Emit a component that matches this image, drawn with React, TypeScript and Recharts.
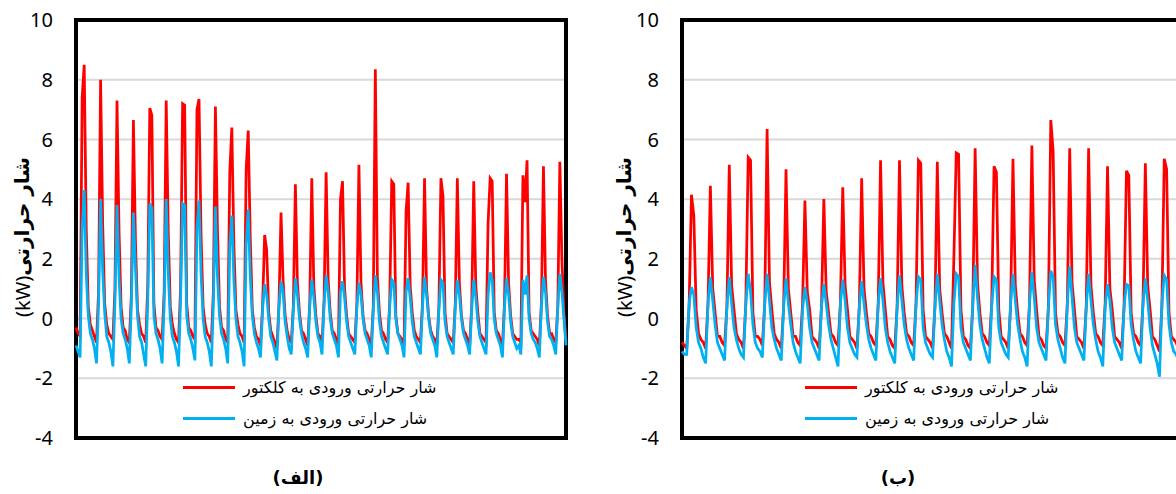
import { LineChart, Line, XAxis, YAxis, CartesianGrid, ReferenceArea, Legend } from 'recharts';

const SERIES_NAMES = ['شار حرارتی ورودی به کلکتور', 'شار حرارتی ورودی به زمین'];
const SERIES_COLORS = ['#ff0000', '#00b0f0'];
const Y_TICKS = [-4, -2, 0, 2, 4, 6, 8, 10];
const Y_LABEL_FA = 'شار حرارتی';
const Y_LABEL_UNIT = '(kW)';
const PANEL_TITLES = ['(الف)', '(ب)'];

// 30 days, 8 readings a day (3 h apart), kW
const LEFT_COLLECTOR = [
  -0.3, -0.5, -0.6, 7.4, 8.5, 3.0, 0.4, -0.2,
  -0.4, -0.6, -0.8, 0.9, 8.0, 3.2, 0.5, -0.2,
  -0.5, -0.6, -0.7, 1.0, 7.3, 2.9, 0.4, -0.3,
  -0.4, -0.7, -0.8, 0.8, 6.65, 2.6, 0.3, -0.2,
  -0.5, -0.6, -0.8, 1.1, 7.05, 6.8, 0.5, -0.3,
  -0.4, -0.6, -0.7, 0.9, 7.3, 2.9, 0.4, -0.2,
  -0.5, -0.7, -0.8, 1.0, 7.2, 7.15, 0.5, -0.3,
  -0.4, -0.6, -0.7, 7.0, 7.35, 2.8, 0.4, -0.2,
  -0.5, -0.6, -0.8, 0.9, 7.1, 3.0, 0.4, -0.3,
  -0.4, -0.7, -0.8, 4.9, 6.4, 2.5, 0.3, -0.2,
  -0.5, -0.6, -0.8, 5.0, 6.3, 2.7, 0.3, -0.3,
  -0.6, -0.7, -0.9, 0.4, 2.8, 2.3, 0.2, -0.4,
  -0.6, -0.8, -1.0, 0.5, 3.55, 1.3, 0.1, -0.4,
  -0.7, -0.8, 0.4, 4.5, 1.2, 0.2, -0.4, -0.5,
  -0.7, -0.9, 0.5, 4.7, 1.1, 0.1, -0.5, -0.6,
  -0.8, 0.6, 4.9, 1.3, 0.2, -0.4, -0.5, -0.7,
  -0.9, 4.0, 4.6, 1.0, 0.1, -0.5, -0.6, -0.7,
  -0.8, 0.5, 5.15, 1.2, 0.1, -0.4, -0.5, -0.7,
  -0.9, 0.4, 8.35, 1.4, 0.2, -0.4, -0.5, -0.7,
  -0.8, 0.5, 4.6, 4.5, 0.1, -0.5, -0.6, -0.7,
  -0.9, 3.6, 4.55, 1.1, 0.2, -0.4, -0.6, -0.7,
  -0.8, 0.5, 4.7, 1.0, 0.1, -0.4, -0.6, -0.7,
  -0.9, 0.4, 4.7, 4.1, 0.2, -0.5, -0.6, -0.7,
  -0.8, 0.5, 4.7, 1.2, 0.1, -0.4, -0.5, -0.7,
  -0.9, 0.4, 4.6, 1.1, 0.2, -0.5, -0.6, -0.7,
  -0.8, 3.2, 4.7, 4.6, 0.2, -0.4, -0.5, -0.7,
  -0.9, 0.5, 4.85, 1.2, 0.1, -0.5, -0.6, -0.7,
  -0.7, -0.8, 4.8, 3.9, 5.3, 0.2, -0.4, -0.5,
  -0.6, -0.7, -0.9, 0.5, 5.1, 1.3, 0.1, -0.5,
  -0.5, -0.7, -0.8, 0.4, 5.25, 2.0, 0.2, -0.8,
];

const LEFT_GROUND = [
  -0.9, -1.1, -1.3, 3.0, 4.3, 1.5, 0.1, -0.5,
  -0.7, -1.0, -1.5, 0.5, 4.0, 1.6, 0.2, -0.6,
  -0.8, -1.1, -1.6, 0.6, 3.8, 1.4, 0.0, -0.5,
  -0.7, -1.0, -1.5, 0.5, 3.55, 1.7, 0.1, -0.6,
  -0.8, -1.2, -1.6, 0.6, 3.85, 3.7, 0.1, -0.5,
  -0.7, -1.0, -1.5, 0.5, 4.0, 1.5, 0.0, -0.6,
  -0.8, -1.1, -1.6, 0.6, 3.85, 3.8, 0.1, -0.5,
  -0.7, -1.0, -1.4, 3.0, 3.95, 1.5, 0.0, -0.6,
  -0.8, -1.1, -1.6, 0.5, 3.75, 1.4, 0.1, -0.5,
  -0.7, -1.0, -1.5, 2.4, 3.45, 1.3, 0.0, -0.6,
  -0.8, -1.1, -1.6, 2.5, 3.65, 1.4, 0.1, -0.5,
  -0.8, -1.0, -1.3, 0.3, 1.15, 0.8, 0.0, -0.6,
  -0.8, -1.1, -1.4, 0.4, 1.25, 0.9, -0.1, -0.6,
  -1.0, -1.2, 0.3, 1.35, 0.8, 0.0, -0.5, -0.8,
  -1.0, -1.3, 0.4, 1.3, 0.7, -0.1, -0.6, -0.8,
  -1.2, 0.5, 1.45, 0.9, 0.0, -0.5, -0.7, -0.9,
  -1.3, 0.9, 1.25, 0.7, -0.1, -0.6, -0.8, -1.0,
  -1.2, 0.4, 1.2, 0.8, 0.0, -0.5, -0.7, -0.9,
  -1.3, 0.3, 1.45, 0.9, -0.1, -0.6, -0.8, -1.0,
  -1.2, 0.4, 1.3, 1.2, 0.0, -0.5, -0.7, -0.9,
  -1.3, 0.9, 1.35, 0.7, -0.1, -0.6, -0.8, -1.0,
  -1.2, 0.4, 1.4, 0.8, 0.0, -0.5, -0.7, -0.9,
  -1.3, 0.3, 1.3, 1.2, -0.1, -0.6, -0.8, -1.0,
  -1.2, 0.4, 1.3, 0.8, 0.0, -0.5, -0.7, -0.9,
  -1.2, 0.3, 1.3, 0.7, -0.1, -0.6, -0.8, -1.0,
  -1.2, 0.8, 1.55, 1.3, 0.0, -0.5, -0.7, -0.9,
  -1.3, 0.4, 1.35, 0.8, -0.1, -0.6, -0.8, -1.0,
  -0.9, -1.2, 1.3, 0.8, 1.45, 0.0, -0.5, -0.7,
  -0.8, -1.0, -1.3, 0.4, 1.4, 0.9, -0.1, -0.6,
  -0.7, -0.9, -1.2, 0.4, 1.5, 0.9, 0.0, -0.9,
];

const RIGHT_COLLECTOR = [
  -0.8, -0.9, -1.0, 0.4, 4.15, 3.45, 0.3, -0.5,
  -0.7, -0.8, -1.0, 0.5, 4.45, 1.0, 0.2, -0.6,
  -0.6, -0.8, -0.9, 0.4, 5.15, 1.1, 0.3, -0.5,
  -0.7, -0.8, -1.0, 0.5, 5.4, 5.3, 0.2, -0.6,
  -0.6, -0.7, -0.9, 0.5, 6.35, 1.2, 0.3, -0.5,
  -0.7, -0.8, -1.0, 0.4, 5.0, 1.0, 0.2, -0.6,
  -0.6, -0.8, -0.9, 0.5, 3.95, 0.9, 0.3, -0.6,
  -0.7, -0.8, -1.0, 0.4, 4.0, 0.9, 0.2, -0.5,
  -0.6, -0.8, -0.9, 0.5, 4.4, 1.1, 0.3, -0.6,
  -0.7, -0.8, -1.0, 0.4, 4.7, 1.0, 0.2, -0.5,
  -0.6, -0.8, -0.9, 0.5, 5.3, 1.2, 0.3, -0.6,
  -0.7, -0.9, -1.0, 0.4, 5.3, 1.1, 0.2, -0.5,
  -0.6, -0.8, -0.9, 0.5, 5.3, 5.2, 0.3, -0.6,
  -0.7, -0.8, -1.0, 0.4, 5.25, 1.0, 0.2, -0.5,
  -0.6, -0.8, -1.0, 2.0, 5.55, 5.5, 0.3, -0.6,
  -0.7, -0.9, -1.0, 0.4, 5.7, 1.2, 0.2, -0.5,
  -0.6, -0.8, -0.9, 0.5, 5.1, 4.9, 0.3, -0.6,
  -0.7, -0.8, -1.0, 0.4, 5.35, 1.1, 0.2, -0.5,
  -0.6, -0.8, -0.9, 0.5, 5.8, 1.3, 0.3, -0.6,
  -0.7, -0.9, -1.0, 0.4, 6.65, 5.6, 0.2, -0.5,
  -0.6, -0.8, -0.9, 0.5, 5.7, 1.2, 0.3, -0.6,
  -0.7, -0.8, -1.0, 0.4, 5.7, 1.1, 0.2, -0.5,
  -0.6, -0.8, -0.9, 0.5, 5.1, 1.0, 0.3, -0.6,
  -0.7, -0.8, -1.0, 0.4, 4.95, 4.8, 0.2, -0.5,
  -0.6, -0.8, -0.9, 0.5, 5.2, 1.1, 0.3, -0.6,
  -0.7, -0.9, -1.1, 0.4, 5.35, 5.0, 0.2, -0.6,
  -0.7, -0.8, -1.0, 0.5, 5.0, 1.0, 0.3, -0.5,
  -0.6, -0.8, -0.9, 0.4, 4.8, 1.1, 0.2, -0.6,
  -0.7, -0.8, -1.0, 0.5, 5.2, 1.0, 0.3, -0.5,
  -0.6, -0.8, -0.9, 0.4, 5.0, 1.1, 0.2, -0.6,
];

const RIGHT_GROUND = [
  -1.1, -1.2, -1.2, 0.5, 1.05, 0.8, -0.3, -0.8,
  -1.0, -1.3, -1.5, 0.5, 1.4, 0.6, -0.2, -0.8,
  -1.0, -1.2, -1.4, 0.4, 1.4, 0.5, -0.3, -0.7,
  -1.0, -1.2, -1.3, 0.5, 1.5, 0.9, -0.2, -0.8,
  -1.0, -1.1, -1.3, 0.5, 1.5, 0.6, -0.3, -0.7,
  -1.0, -1.2, -1.4, 0.4, 1.35, 0.5, -0.2, -0.8,
  -1.1, -1.3, -1.5, 0.3, 1.05, 0.5, -0.3, -0.8,
  -1.0, -1.2, -1.4, 0.4, 1.15, 0.5, -0.2, -0.7,
  -1.0, -1.3, -1.6, 0.5, 1.3, 0.6, -0.3, -0.8,
  -1.0, -1.2, -1.3, 0.4, 1.25, 0.5, -0.2, -0.7,
  -1.0, -1.2, -1.4, 0.5, 1.35, 0.6, -0.3, -0.8,
  -1.1, -1.3, -1.5, 0.4, 1.45, 0.6, -0.2, -0.7,
  -1.0, -1.2, -1.4, 0.5, 1.4, 1.3, -0.3, -0.8,
  -1.0, -1.2, -1.3, 0.4, 1.5, 0.6, -0.2, -0.7,
  -1.1, -1.3, -1.6, 0.5, 1.5, 1.4, -0.3, -0.8,
  -1.0, -1.2, -1.4, 0.5, 1.8, 0.7, -0.2, -0.7,
  -1.0, -1.3, -1.5, 0.4, 1.4, 1.3, -0.3, -0.8,
  -1.0, -1.2, -1.3, 0.5, 1.5, 0.6, -0.2, -0.7,
  -1.1, -1.3, -1.6, 0.5, 1.55, 0.7, -0.3, -0.8,
  -1.0, -1.2, -1.4, 0.4, 1.6, 1.4, -0.2, -0.7,
  -1.0, -1.3, -1.5, 0.5, 1.75, 0.7, -0.3, -0.8,
  -1.0, -1.2, -1.4, 0.4, 1.5, 0.6, -0.2, -0.7,
  -1.1, -1.3, -1.6, 0.4, 1.15, 0.6, -0.3, -0.8,
  -1.0, -1.2, -1.4, 0.4, 1.15, 1.1, -0.2, -0.7,
  -1.1, -1.3, -1.5, 0.5, 1.35, 0.6, -0.3, -0.9,
  -1.2, -1.5, -1.95, 0.5, 1.45, 1.3, -0.2, -0.8,
  -1.1, -1.2, -1.4, 0.4, 1.3, 0.6, -0.3, -0.7,
  -1.0, -1.2, -1.4, 0.4, 1.2, 0.5, -0.2, -0.8,
  -1.0, -1.3, -1.5, 0.5, 1.4, 0.6, -0.3, -0.7,
  -1.0, -1.2, -1.4, 0.4, 1.3, 0.5, -0.2, -0.8,
];

const toRows = (collector: number[], ground: number[]) =>
  collector.map((v, i) => ({ t: i, collector: v, ground: ground[i] }));

const renderLegend = (props: any) => {
  const items = [...(props.payload || [])].sort(
    (a: any, b: any) => SERIES_NAMES.indexOf(a.value) - SERIES_NAMES.indexOf(b.value),
  );
  return (
    <div>
      {items.map((item: any) => (
        <div key={item.value} style={{ display: 'flex', alignItems: 'center', height: 31 }}>
          <div style={{ width: 52, height: 3, background: item.color }} />
          <span style={{ marginLeft: 8, fontFamily: 'DejaVu Sans', fontSize: 16, color: '#000', whiteSpace: 'nowrap' }}>
            {item.value}
          </span>
        </div>
      ))}
    </div>
  );
};

const yLabel = (x: number) => () => (
  <text transform={`translate(${x},237) rotate(-90)`} textAnchor="middle" dominantBaseline="central" fontSize={20} fill="#000">
    <tspan fontFamily="Noto Sans">{Y_LABEL_UNIT}</tspan>
    <tspan fontFamily="DejaVu Sans" fontWeight="bold">{Y_LABEL_FA}</tspan>
  </text>
);

interface PanelProps {
  rows: { t: number; collector: number; ground: number }[];
  left: number;
  width: number;
  marginRight: number;
  labelX: number;
  legendX: number;
}

function Panel({ rows, left, width, marginRight, labelX, legendX }: PanelProps) {
  const last = rows.length - 1;
  return (
    <div style={{ position: 'absolute', left, top: 0 }}>
      <LineChart width={width} height={494} data={rows} margin={{ top: 20, right: marginRight, bottom: 56, left: 0 }}>
        <CartesianGrid vertical={false} stroke="#d9d9d9" strokeWidth={2} />
        <XAxis dataKey="t" hide />
        <YAxis
          width={76}
          domain={[-4, 10]}
          ticks={Y_TICKS}
          interval={0}
          axisLine={false}
          tickLine={false}
          tickSize={0}
          tickMargin={23}
          tick={{ fontFamily: 'Noto Sans', fontSize: 20, fill: '#000' }}
          label={yLabel(labelX)}
        />
        <Line type="linear" dataKey="collector" name={SERIES_NAMES[0]} stroke={SERIES_COLORS[0]} strokeWidth={2.75} dot={false} isAnimationActive={false} />
        <Line type="linear" dataKey="ground" name={SERIES_NAMES[1]} stroke={SERIES_COLORS[1]} strokeWidth={2.75} dot={false} isAnimationActive={false} />
        <ReferenceArea x1={0} x2={last} y1={-4} y2={10} fill="none" fillOpacity={0} stroke="#000" strokeWidth={4} ifOverflow="visible" />
        <Legend
          layout="vertical"
          verticalAlign="middle"
          align="center"
          content={renderLegend}
          wrapperStyle={{ left: legendX, top: 372, width: 'auto' }}
        />
      </LineChart>
    </div>
  );
}

export default function App() {
  return (
    <div style={{ position: 'fixed', left: 0, top: 0, width: 1176, height: 494, overflow: 'hidden', background: '#fff' }}>
      <Panel rows={toRows(LEFT_COLLECTOR, LEFT_GROUND)} left={0} width={600} marginRight={34} labelX={22} legendX={183} />
      <Panel rows={toRows(RIGHT_COLLECTOR, RIGHT_GROUND)} left={606} width={680} marginRight={39} labelX={18} legendX={199} />
      <svg width={1176} height={40} style={{ position: 'absolute', left: 0, top: 454 }}>
        <text x={298} y={30} textAnchor="middle" fontFamily="DejaVu Sans" fontWeight="bold" fontSize={18} fill="#000">
          {PANEL_TITLES[0]}
        </text>
        <text x={898} y={30} textAnchor="middle" fontFamily="DejaVu Sans" fontWeight="bold" fontSize={18} fill="#000">
          {PANEL_TITLES[1]}
        </text>
      </svg>
    </div>
  );
}
